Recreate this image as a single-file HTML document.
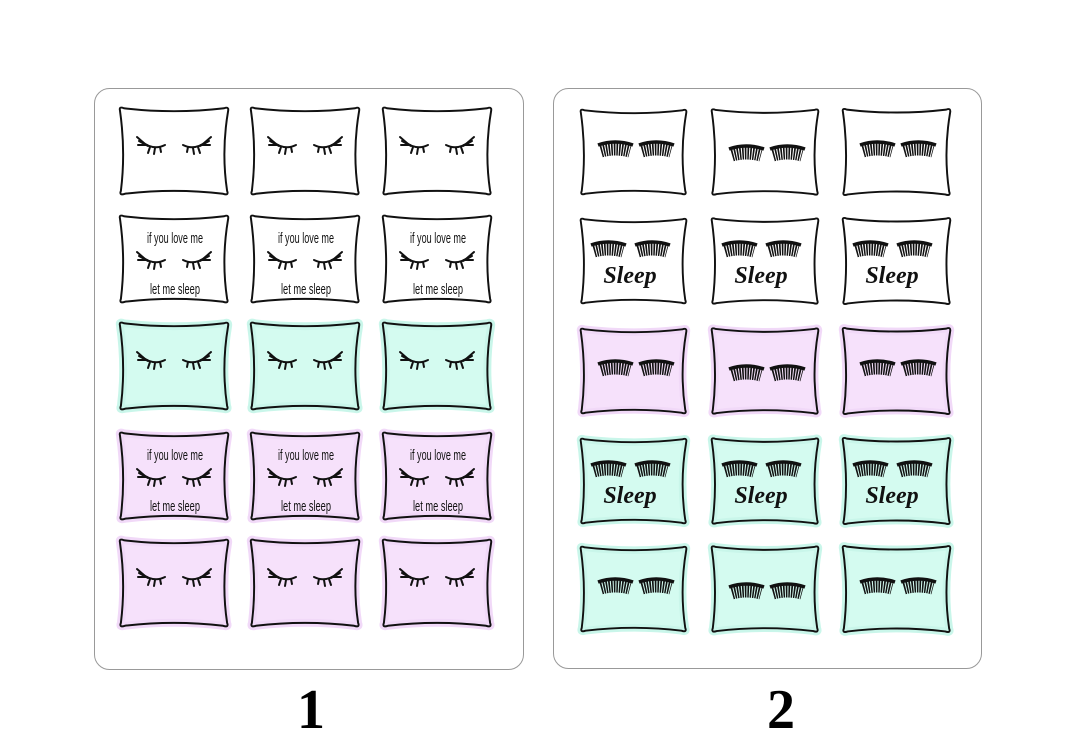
<!DOCTYPE html>
<html><head><meta charset="utf-8"><style>
html,body{margin:0;padding:0;background:#fff;}
svg{display:block;}
.h{font-family:"Liberation Sans Narrow","Liberation Sans",sans-serif;font-size:15px;fill:#111;}
.s{font-family:"Liberation Serif",serif;font-style:italic;font-weight:bold;font-size:24px;fill:#111;}
.n{font-family:"Liberation Serif",serif;font-weight:bold;font-size:56px;fill:#000;}
</style></head><body>
<svg width="1086" height="755" viewBox="0 0 1086 755" xmlns="http://www.w3.org/2000/svg">
<defs>
<symbol id="P" viewBox="0 0 120 94" overflow="visible">
<path d="M5,5 Q4,1 9,3 Q60,9 111,3 Q116,1 115,6 Q108,47 114,87 Q116,92 110,90 Q60,84 10,90 Q4,92 6,87 Q11,47 5,5 Z" stroke-linejoin="round"/>
</symbol>
<g id="e1l" fill="none" stroke="#111" stroke-width="2" stroke-linecap="round">
<path d="M0,0 Q12,10 24,4"/><path d="M4,3 L-4,-4"/><path d="M7,5 L-2,0"/><path d="M9,6 L7,12"/><path d="M14,7 L13,13"/><path d="M19,6 L20,11"/><path d="M6,4 L-3,4"/>
</g>
<g id="e1r" fill="none" stroke="#111" stroke-width="2" stroke-linecap="round">
<path d="M24,0 Q12,10 0,4"/><path d="M20,3 L28,-4"/><path d="M17,5 L26,0"/><path d="M15,6 L17,12"/><path d="M10,7 L11,13"/><path d="M5,6 L4,11"/><path d="M18,4 L27,4"/>
</g>
<g id="e2" fill="none" stroke="#111" stroke-linecap="butt">
<path d="M0,3 Q17,-3 35,3" stroke-width="3.5"/>
<path d="M3,4 Q17,0 32,4" stroke-width="13" stroke-dasharray="1.6 1" transform="translate(0,5)"/>
</g>
<g id="A"><use href="#e1l" x="26" y="36"/><use href="#e1r" x="68" y="36"/></g>
<g id="B"><text class="h" x="32" y="30" textLength="56" lengthAdjust="spacingAndGlyphs">if you love me</text><use href="#e1l" x="26" y="43"/><use href="#e1r" x="68" y="43"/><text class="h" x="35" y="81" textLength="50" lengthAdjust="spacingAndGlyphs">let me sleep</text></g>
<g id="C"><use href="#e2" x="22" y="36"/><use href="#e2" x="63" y="36"/></g>
<g id="D"><use href="#e2" x="15" y="27"/><use href="#e2" x="59" y="27"/><text class="s" x="54" y="68" text-anchor="middle">Sleep</text></g>
</defs>
<rect x="94.5" y="88.5" width="429" height="581" rx="15" fill="#fff" stroke="#999" stroke-width="1"/>
<rect x="553.5" y="88.5" width="428" height="580" rx="15" fill="#fff" stroke="#999" stroke-width="1"/>

<g stroke="#111" stroke-width="2">
<g fill="#fff">
<use href="#P" x="115" y="105" width="118" height="93"/><use href="#P" x="246" y="105" width="118" height="93"/><use href="#P" x="378" y="105" width="118" height="93"/>
<use href="#P" x="115" y="213" width="118" height="93"/><use href="#P" x="246" y="213" width="118" height="93"/><use href="#P" x="378" y="213" width="118" height="93"/>
</g>
<g fill="#d4fbf0" style="stroke:#c9f6ea;stroke-width:8">
<use href="#P" x="115" y="320" width="118" height="93"/><use href="#P" x="246" y="320" width="118" height="93"/><use href="#P" x="378" y="320" width="118" height="93"/>
</g>
<g fill="none">
<use href="#P" x="115" y="320" width="118" height="93"/><use href="#P" x="246" y="320" width="118" height="93"/><use href="#P" x="378" y="320" width="118" height="93"/>
</g>
<g fill="#f6e1fb" style="stroke:#f1d9f8;stroke-width:8">
<use href="#P" x="115" y="430" width="118" height="93"/><use href="#P" x="246" y="430" width="118" height="93"/><use href="#P" x="378" y="430" width="118" height="93"/>
<use href="#P" x="115" y="537" width="118" height="93"/><use href="#P" x="246" y="537" width="118" height="93"/><use href="#P" x="378" y="537" width="118" height="93"/>
</g>
<g fill="none">
<use href="#P" x="115" y="430" width="118" height="93"/><use href="#P" x="246" y="430" width="118" height="93"/><use href="#P" x="378" y="430" width="118" height="93"/>
<use href="#P" x="115" y="537" width="118" height="93"/><use href="#P" x="246" y="537" width="118" height="93"/><use href="#P" x="378" y="537" width="118" height="93"/>
</g>
</g>
<use href="#A" transform="translate(115,105)"/><use href="#A" transform="translate(246,105)"/><use href="#A" transform="translate(378,105)"/>
<use href="#B" transform="translate(115,213)"/><use href="#B" transform="translate(246,213)"/><use href="#B" transform="translate(378,213)"/>
<use href="#A" transform="translate(115,320)"/><use href="#A" transform="translate(246,320)"/><use href="#A" transform="translate(378,320)"/>
<use href="#B" transform="translate(115,430)"/><use href="#B" transform="translate(246,430)"/><use href="#B" transform="translate(378,430)"/>
<use href="#A" transform="translate(115,537)"/><use href="#A" transform="translate(246,537)"/><use href="#A" transform="translate(378,537)"/>

<g stroke="#111" stroke-width="2">
<g fill="#fff">
<use href="#P" x="576" y="106" width="115" height="93"/><use href="#P" x="707" y="106" width="116" height="93"/><use href="#P" x="838" y="106" width="117" height="93"/>
<use href="#P" x="576" y="215" width="115" height="93"/><use href="#P" x="707" y="215" width="116" height="93"/><use href="#P" x="838" y="215" width="117" height="93"/>
</g>
<g fill="#f6e1fb" style="stroke:#f1d9f8;stroke-width:8">
<use href="#P" x="576" y="325" width="115" height="93"/><use href="#P" x="707" y="325" width="116" height="93"/><use href="#P" x="838" y="325" width="117" height="93"/>
</g>
<g fill="none">
<use href="#P" x="576" y="325" width="115" height="93"/><use href="#P" x="707" y="325" width="116" height="93"/><use href="#P" x="838" y="325" width="117" height="93"/>
</g>
<g fill="#d4fbf0" style="stroke:#c9f6ea;stroke-width:8">
<use href="#P" x="576" y="435" width="115" height="93"/><use href="#P" x="707" y="435" width="116" height="93"/><use href="#P" x="838" y="435" width="117" height="93"/>
<use href="#P" x="576" y="543" width="115" height="93"/><use href="#P" x="707" y="543" width="116" height="93"/><use href="#P" x="838" y="543" width="117" height="93"/>
</g>
<g fill="none">
<use href="#P" x="576" y="435" width="115" height="93"/><use href="#P" x="707" y="435" width="116" height="93"/><use href="#P" x="838" y="435" width="117" height="93"/>
<use href="#P" x="576" y="543" width="115" height="93"/><use href="#P" x="707" y="543" width="116" height="93"/><use href="#P" x="838" y="543" width="117" height="93"/>
</g>
</g>
<use href="#C" transform="translate(576,106)"/><use href="#C" transform="translate(707,110)"/><use href="#C" transform="translate(838,106)"/>
<use href="#D" transform="translate(576,215)"/><use href="#D" transform="translate(707,215)"/><use href="#D" transform="translate(838,215)"/>
<use href="#C" transform="translate(576,325)"/><use href="#C" transform="translate(707,330)"/><use href="#C" transform="translate(838,325)"/>
<use href="#D" transform="translate(576,435)"/><use href="#D" transform="translate(707,435)"/><use href="#D" transform="translate(838,435)"/>
<use href="#C" transform="translate(576,543)"/><use href="#C" transform="translate(707,548)"/><use href="#C" transform="translate(838,543)"/>

<text class="n" x="311" y="728" text-anchor="middle">1</text>
<text class="n" x="781" y="728" text-anchor="middle">2</text>
</svg>
</body></html>
